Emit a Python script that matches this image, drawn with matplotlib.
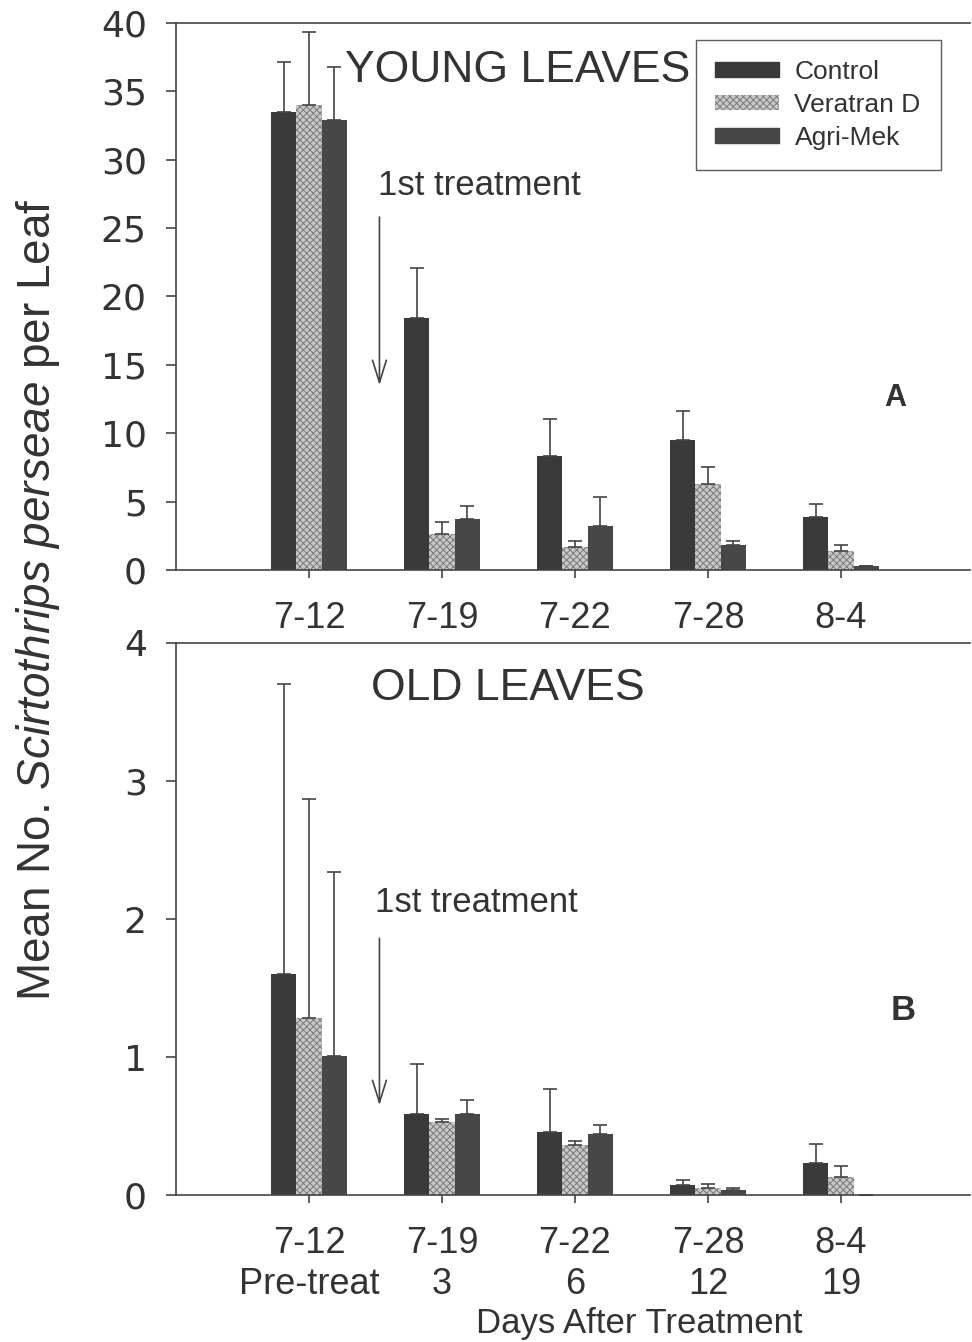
import numpy as np
import matplotlib
matplotlib.use('Agg')
import matplotlib.pyplot as plt
from matplotlib.patches import Patch

plt.rcParams['font.family'] = ['Liberation Sans', 'DejaVu Sans']
plt.rcParams['mathtext.fontset'] = 'custom'
plt.rcParams['mathtext.it'] = 'Liberation Sans:italic'
plt.rcParams['mathtext.rm'] = 'Liberation Sans'
plt.rcParams['hatch.linewidth'] = 0.7

# data
dates = ['7-12', '7-19', '7-22', '7-28', '8-4']
days = ['Pre-treat', '3', '6', '12', '19']
treatments = ['Control', 'Veratran D', 'Agri-Mek']

young_control = [33.5, 18.4, 8.3, 9.5, 3.9]
young_control_err = [3.6, 3.7, 2.7, 2.1, 0.9]
young_veratran = [34.0, 2.6, 1.7, 6.3, 1.4]
young_veratran_err = [5.3, 0.9, 0.4, 1.2, 0.4]
young_agrimek = [32.9, 3.7, 3.2, 1.8, 0.3]
young_agrimek_err = [3.9, 1.0, 2.1, 0.3, 0.0]

old_control = [1.60, 0.59, 0.46, 0.07, 0.23]
old_control_err = [2.10, 0.36, 0.31, 0.04, 0.14]
old_veratran = [1.28, 0.53, 0.36, 0.05, 0.13]
old_veratran_err = [1.59, 0.02, 0.03, 0.03, 0.08]
old_agrimek = [1.01, 0.59, 0.44, 0.04, 0.0]
old_agrimek_err = [1.33, 0.10, 0.07, 0.01, 0.0]

txt = '#333333'
styles = [dict(color='#3a3a3a'),
          dict(facecolor='#c8c8c8', hatch='xxxxx', edgecolor='#7a7a7a', linewidth=0),
          dict(color='#474747')]

fig = plt.figure(figsize=(9.72, 13.42), dpi=100)
ax1 = fig.add_axes([0.181, 0.5753, 0.817, 0.4077])
ax2 = fig.add_axes([0.181, 0.1095, 0.817, 0.4114])

x = np.arange(len(dates))
w = 0.19


def draw(ax, series, errs):
    for i, (vals, err) in enumerate(zip(series, errs)):
        pos = x + (i - 1) * w
        ax.bar(pos, vals, w, **styles[i])
        ax.errorbar(pos, vals, yerr=[np.zeros(len(vals)), err], fmt='none',
                    ecolor='#444444', elinewidth=1.2, capsize=5, capthick=1.2)
    ax.set_xlim(-1.0, 4.97)
    ax.spines['right'].set_visible(False)
    for s in ['left', 'bottom', 'top']:
        ax.spines[s].set_color('#444444')
        ax.spines[s].set_linewidth(1.2)
    ax.tick_params(axis='y', direction='out', length=7, width=1.2, pad=14,
                   colors='#444444', labelsize=26, labelcolor=txt)
    ax.tick_params(axis='x', direction='out', length=6, width=1.2, pad=16,
                   colors='#444444', labelsize=26, labelcolor=txt)
    ax.set_xticks(x)


draw(ax1, [young_control, young_veratran, young_agrimek],
     [young_control_err, young_veratran_err, young_agrimek_err])
ax1.set_ylim(0, 40)
ax1.set_yticks(range(0, 41, 5))
for lab in ax1.get_yticklabels():
    lab.set_family('DejaVu Sans')
ax1.set_xticklabels(dates)

draw(ax2, [old_control, old_veratran, old_agrimek],
     [old_control_err, old_veratran_err, old_agrimek_err])
ax2.set_ylim(0, 4)
ax2.set_yticks(range(0, 5))
for lab in ax2.get_yticklabels():
    lab.set_family('DejaVu Sans')
ax2.set_xticklabels([d + '\n' + n for d, n in zip(dates, days)], linespacing=1.25)

# panel annotations
ax1.text(0.27, 36.5, 'YOUNG LEAVES', fontsize=32, color=txt, va='center')
ax1.text(0.52, 28.1, '1st treatment', fontsize=25, color=txt, va='center')
ax1.annotate('', xy=(0.53, 13.3), xytext=(0.53, 26.0),
             arrowprops=dict(arrowstyle='->,head_length=1.6,head_width=0.5',
                             color='#444444', lw=1.2))
ax1.text(4.41, 12.6, 'A', fontsize=22, fontweight='bold', color=txt,
         ha='center', va='center')

ax2.text(0.47, 3.67, 'OLD LEAVES', fontsize=32, color=txt, va='center')
ax2.text(0.50, 2.12, '1st treatment', fontsize=25, color=txt, va='center')
ax2.annotate('', xy=(0.53, 0.63), xytext=(0.53, 1.88),
             arrowprops=dict(arrowstyle='->,head_length=1.6,head_width=0.5',
                             color='#444444', lw=1.2))
ax2.text(4.47, 1.34, 'B', fontsize=25, fontweight='bold', color=txt,
         ha='center', va='center')

handles = [Patch(**styles[i], label=treatments[i]) for i in range(3)]
leg = fig.legend(handles=handles, loc='upper left',
                 bbox_to_anchor=(0.702, 0.980), fontsize=19, frameon=True,
                 fancybox=False, edgecolor='#333333', handlelength=2.4,
                 handleheight=0.5, labelspacing=0.35, borderpad=0.75,
                 handletextpad=0.6, labelcolor=txt)
leg.get_frame().set_linewidth(1.0)

fig.text(0.039, 0.553, r'Mean No. $\it{Scirtothrips\ perseae}$ per Leaf',
         rotation=90, fontsize=33, color=txt, ha='center', va='center')
fig.text(0.658, 0.014, 'Days After Treatment', fontsize=25, color=txt,
         ha='center', va='center')

fig.savefig('out.png', dpi=100)
